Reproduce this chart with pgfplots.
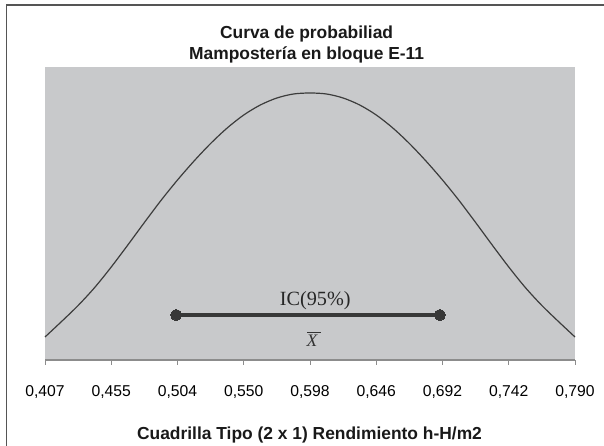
\documentclass[border=0pt]{standalone}
\usepackage{fontspec}
\setmainfont{Liberation Sans}
\newfontfamily\serifface{Liberation Serif}
\usepackage{pgfplots}
\pgfplotsset{compat=1.18}
\usepackage{pgfplotstable}

\definecolor{plotgray}{RGB}{200,201,203}
\definecolor{curvegray}{RGB}{60,60,60}
\definecolor{barsgray}{RGB}{56,56,56}
\definecolor{axisgray}{RGB}{140,140,140}
\definecolor{framegray}{RGB}{85,85,85}

% Density curve: x in standard-deviation steps (0..8), y in drawing units
\pgfplotstableread{
u     h
0.00  23
0.25  38.5
0.50  54.5
0.75  72.5
1.00  93
1.25  115
1.50  137.5
1.75  159.5
2.00  180
2.25  199
2.50  216.5
2.75  232
3.00  245
3.25  255
3.50  262
3.75  266
4.00  267
4.25  266
4.50  262
4.75  255
5.00  245
5.25  232
5.50  216.5
5.75  199
6.00  180
6.25  159.5
6.50  137.5
6.75  115
7.00  93
7.25  72.5
7.50  54.5
7.75  38.5
8.00  23
}\curvedata

% 95% confidence interval end points
\pgfplotstableread{
u     h
1.98  45
5.96  45
}\icdata

\begin{document}
\begin{tikzpicture}
\useasboundingbox (0,0) rectangle (604bp,446bp);
% outer frame
\draw[line width=1.5bp, framegray] (6.5bp,-20bp) -- (6.5bp,441bp) -- (640bp,441bp);

\begin{axis}[
  scale only axis,
  width=530bp, height=293bp,
  at={(45bp,86bp)}, anchor=south west,
  xmin=0, xmax=8, ymin=0, ymax=293,
  axis background/.style={fill=plotgray},
  axis x line*=bottom,
  axis y line=none,
  x axis line style={axisgray, line width=1.5bp},
  xtick={0,1,2,3,4,5,6,7,8},
  xticklabels={{0,407},{0,455},{0,504},{0,550},{0,598},{0,646},{0,692},{0,742},{0,790}},
  tick align=outside,
  major tick length=5bp,
  tick style={axisgray, line width=1bp},
  ytick=\empty,
  xticklabel style={font=\fontsize{15.7bp}{18bp}\selectfont, anchor=base, yshift=-31.7bp},
  /pgf/number format/assume math mode=true,
  clip=false,
]
\addplot[curvegray, line width=1.2bp, smooth, tension=0.5] table[x=u, y=h] {\curvedata};
\addplot[barsgray, line width=3.5bp, mark=*, mark size=5.5bp,
  mark options={fill=barsgray, draw=barsgray, line width=0pt}] table[x=u, y=h] {\icdata};
\node[anchor=base, font=\serifface\fontsize{20.2bp}{22bp}\selectfont, black!85]
  at (axis cs:4.08,54) {IC(95\%)};
\node[anchor=base, font=\serifface\fontsize{17.6bp}{20bp}\selectfont, black!80]
  at (axis cs:4.03,13.3)
  {\makebox[0pt][l]{\hspace{0.5bp}\rule[14bp]{14bp}{0.8bp}}\itshape X};
\end{axis}

% title and axis label
\node[anchor=base, font=\bfseries\fontsize{17.4bp}{20bp}\selectfont, black!90]
  at (306.6bp,407.7bp) {Curva de probabiliad};
\node[anchor=base, font=\bfseries\fontsize{17.4bp}{20bp}\selectfont, black!90]
  at (306.6bp,386bp) {Mampostería en bloque E-11};
\node[anchor=base, font=\bfseries\fontsize{17.4bp}{20bp}\selectfont, black!90]
  at (309.5bp,7bp) {Cuadrilla Tipo (2 x 1) Rendimiento h-H/m2};
\end{tikzpicture}
\end{document}
